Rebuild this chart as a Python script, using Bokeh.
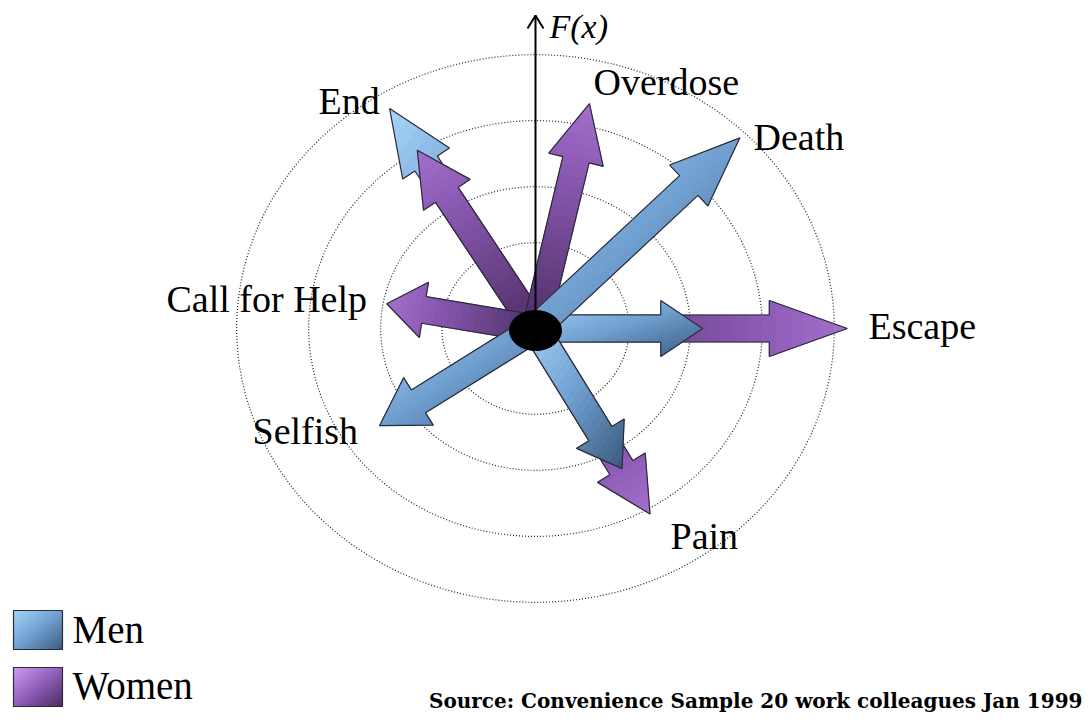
import math
from bokeh.plotting import figure
from bokeh.models import Range1d
from bokeh.core.properties import value
from bokeh.embed import file_html
from bokeh.resources import INLINE

# ---------------- data ----------------
categories = ["End", "Overdose", "Death", "Escape", "Pain", "Selfish", "Call for Help"]
angles_deg = [121.3, 77.6, 45.5, 0.0, -60.5, 214.2, 169.7]
men = [3.90, 0.0, 4.05, 2.32, 2.44, 2.62, 0.0]
women = [3.16, 3.49, 0.0, 4.33, 3.23, 0.0, 2.10]
rings = [1.3, 2.15, 3.15, 4.15]
series = ["Men", "Women"]
axis_label = "F(x)"
source_note = "Source: Convenience Sample 20 work colleagues Jan 1999"

# ---------------- layout / style ----------------
W, H = 1084, 714
X0, Y0 = 535, 328          # origin in picture pixels
SX, SY = 72.0, 66.0        # pixels per unit on x / y

def dx(X):
    return (X - X0) / SX

def dy(Y):
    return (Y0 - Y) / SY

label_xy = {  # left x, vertical middle y (picture pixels)
    "End": (318, 100), "Overdose": (593, 81), "Death": (753, 136),
    "Escape": (868, 325), "Pain": (670, 535), "Selfish": (252, 430),
    "Call for Help": (166, 298),
}
palette = {
    "Men": ("#A6D3F7", "#6F9FD0", "#3A5A7E"),
    "Women": ("#D19BF5", "#8F5DB8", "#48295F"),
}
OUTLINE = "#2B2B3A"
FONT = "Liberation Serif"

p = figure(width=W, height=H, output_backend="svg", toolbar_location=None,
           x_range=Range1d(dx(0), dx(W)), y_range=Range1d(dy(H), dy(0)),
           x_axis_location=None, y_axis_location=None, min_border=0)
p.grid.visible = False
p.outline_line_color = None
p.background_fill_color = "white"


def hex2rgb(h):
    h = h.lstrip("#")
    return [int(h[i:i + 2], 16) for i in (0, 2, 4)]


def grad_color(stops, t):
    t = min(max(t, 0.0), 1.0)
    cols = [hex2rgb(c) for c in stops]
    if t <= 0.5:
        a, b, f = cols[0], cols[1], t / 0.5
    else:
        a, b, f = cols[1], cols[2], (t - 0.5) / 0.5
    c = [round(a[i] + (b[i] - a[i]) * f) for i in range(3)]
    return "#%02x%02x%02x" % tuple(c)


def clip(poly, a, b, c):
    """keep a*x + b*y <= c (poly must be convex)"""
    out = []
    n = len(poly)
    for i in range(n):
        P, Q = poly[i], poly[(i + 1) % n]
        fp = a * P[0] + b * P[1] - c
        fq = a * Q[0] + b * Q[1] - c
        if fp <= 0:
            out.append(P)
        if (fp < 0 < fq) or (fq < 0 < fp):
            s = fp / (fp - fq)
            out.append((P[0] + s * (Q[0] - P[0]), P[1] + s * (Q[1] - P[1])))
    return out


def diag_ramp(outline):
    xs = [q[0] for q in outline]
    ys = [q[1] for q in outline]
    minx, maxx, miny, maxy = min(xs), max(xs), min(ys), max(ys)
    w = max(maxx - minx, 1e-6)
    h = max(maxy - miny, 1e-6)
    return 0.5 / w, -0.5 / h, 0.5 * (-minx / w + maxy / h)


def draw_gradient_shape(outline, pieces, stops, ramp, nb=22):
    ax, ay, a0 = ramp      # t = ax*x + ay*y + a0
    vals_t = [ax * q[0] + ay * q[1] + a0 for q in outline]
    tmin, tmax = min(vals_t), max(vals_t)
    bx, by, cols = [], [], []
    for piece in pieces:
        for k in range(nb):
            t0 = tmin + (tmax - tmin) * k / nb
            t1 = tmin + (tmax - tmin) * (k + 1) / nb
            sub = clip(piece, -ax, -ay, a0 - t0)
            if len(sub) >= 3:
                sub = clip(sub, ax, ay, t1 - a0)
            if len(sub) >= 3:
                bx.append([q[0] / SX for q in sub])
                by.append([q[1] / SY for q in sub])
                cols.append(grad_color(stops, 0.5 * (t0 + t1)))
    p.patches(bx, by, fill_color=cols, line_color=cols, line_width=0.8)
    p.patch([q[0] / SX for q in outline], [q[1] / SY for q in outline],
            fill_alpha=0, line_color=OUTLINE, line_width=1.2)


def arrow_shape(r, ang_deg):
    a = math.radians(ang_deg)
    tx, ty = r * math.cos(a) * SX, r * math.sin(a) * SY
    L = math.hypot(tx, ty)
    ux, uy = tx / L, ty / L
    nx, ny = -uy, ux
    hl, sw, hw = 0.25 * L, 13.5, 28.0
    b = L - hl

    def P(s, d):
        return (s * nx + d * ux, s * ny + d * uy)

    outline = [P(sw, 0), P(sw, b), P(hw, b), P(0, L), P(-hw, b), P(-sw, b), P(-sw, 0)]
    shaft = [P(sw, 0), P(sw, b + 0.5), P(-sw, b + 0.5), P(-sw, 0)]
    head = [P(hw, b), P(0, L), P(-hw, b)]
    axis_ramp = (-0.6 * ux / L, -0.6 * uy / L, 0.95)   # dark base -> lighter tip
    return outline, [shaft, head], axis_ramp


# rings
p.ellipse(x=[0] * len(rings), y=[0] * len(rings), width=[2 * r for r in rings],
          height=[2 * r for r in rings], fill_alpha=0, line_color="#222222",
          line_width=1.2, line_dash="1 2")

# arrows (draw order)
order = [("Women", "Escape"), ("Men", "Escape"), ("Women", "Pain"), ("Men", "Pain"),
         ("Men", "End"), ("Women", "End"), ("Women", "Overdose"), ("Men", "Death"),
         ("Women", "Call for Help"), ("Men", "Selfish")]
vals = {"Men": men, "Women": women}
for s, cat in order:
    i = categories.index(cat)
    v = vals[s][i]
    if v > 0:
        outline, pieces, axis_ramp = arrow_shape(v, angles_deg[i])
        ramp = diag_ramp(outline) if s == "Men" else axis_ramp
        draw_gradient_shape(outline, pieces, palette[s], ramp)

# vertical F(x) axis
p.line([0, 0], [0, dy(15)], line_color="black", line_width=2)
p.multi_line([[dx(527), 0, dx(543)]], [[dy(28), dy(15), dy(28)]],
             line_color="black", line_width=2)
p.text(x=[dx(549)], y=[dy(26)], text=[axis_label], text_font=value(FONT),
       text_font_style="italic", text_font_size="34px", text_color="black",
       text_baseline="middle", text_align="left")

# centre hub
p.ellipse(x=[0], y=[dy(330)], width=[52 / SX], height=[40 / SY],
          fill_color="black", line_color="black")

# category labels
p.text(x=[dx(label_xy[c][0]) for c in categories],
       y=[dy(label_xy[c][1]) for c in categories], text=categories,
       text_font=value(FONT), text_font_size="38px", text_color="black",
       text_baseline="middle", text_align="left")

# legend
leg = {"Men": (610, 629), "Women": (667, 685)}
for s in series:
    top, mid = leg[s]
    box = [(13 - X0, Y0 - top), (62 - X0, Y0 - top), (62 - X0, Y0 - top - 39), (13 - X0, Y0 - top - 39)]
    draw_gradient_shape(box, [box], palette[s], diag_ramp(box))
p.text(x=[dx(72)] * 2, y=[dy(leg[s][1]) for s in series], text=series,
       text_font=value(FONT), text_font_size="39px", text_color="black",
       text_baseline="middle", text_align="left")

# source note
p.text(x=[dx(1082)], y=[dy(700)], text=[source_note], text_font=value("DejaVu Serif"),
       text_font_style="bold", text_font_size="20px", text_color="black",
       text_baseline="middle", text_align="right")

open("out.html", "w").write(file_html(p, INLINE))
